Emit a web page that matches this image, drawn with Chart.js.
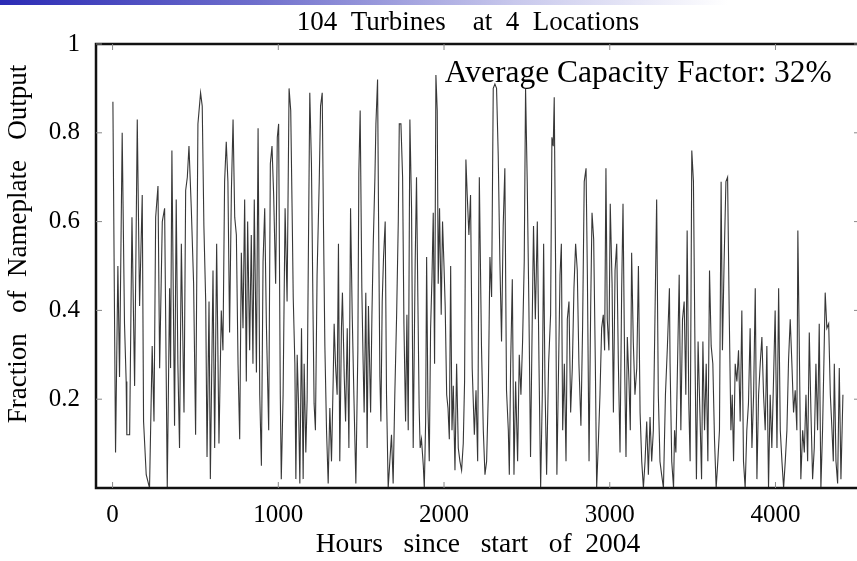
<html>
<head>
<script src="https://cdn.jsdelivr.net/npm/chart.js@4.4.0/dist/chart.umd.min.js"></script>
<style>
  html, body { margin: 0; padding: 0; overflow: hidden; background: #fff; }
  #wrap { position: absolute; left: 0; top: 0; width: 870px; height: 561px; }
  #topbar {
    position: absolute; left: 0; top: 0; width: 857px; height: 5px;
    background: linear-gradient(to right, #2b2bb5 0%, #6f6fcc 30%, #c8c8ec 60%, #ffffff 85%);
  }
</style>
</head>
<body>
<div id="wrap"><canvas id="capacityChart" width="870" height="561"></canvas></div>
<div id="topbar"></div>

<script>
  // hourly output, one block per quarter of the x range
  var hoursA = [2,18,32,42,58,72,82,86,103,117,
    133,149,163,179,187,203,223,239,250,260,
    274,284,300,314,324,330,344,350,358,374,
    384,394,404,415,431,441,451,461,475,489,
    501,515,531,541,551,562,570,582,590,606,
    616,628,642,656,666,676,686,696,706,717,
    727,737,747,757,767,777,787,797,807,815,
    827,837,847,855,868,878,888,898,908,918,
    928,942,952,962,972,984,994,1002,1012,1018,
    1029,1041,1053,1065];
  var fractionA = [0.87,0.08,0.50,0.25,0.80,0.37,0.24,0.12,0.12,0.61,
    0.23,0.83,0.41,0.66,0.15,0.03,0.00,0.32,0.15,0.61,
    0.68,0.27,0.60,0.63,0.24,0.00,0.45,0.27,0.76,0.14,
    0.65,0.28,0.09,0.55,0.17,0.67,0.70,0.77,0.63,0.46,
    0.12,0.82,0.89,0.86,0.59,0.42,0.07,0.42,0.02,0.49,
    0.09,0.55,0.10,0.40,0.31,0.69,0.78,0.69,0.35,0.67,
    0.83,0.61,0.57,0.28,0.11,0.53,0.36,0.65,0.24,0.60,
    0.31,0.57,0.28,0.65,0.26,0.81,0.21,0.05,0.51,0.63,
    0.37,0.13,0.73,0.77,0.66,0.46,0.79,0.82,0.21,0.02,
    0.21,0.63,0.42,0.90];

  var hoursB = [1075,1085,1090,1100,1106,1114,1122,1130,1140,1150,
    1156,1166,1174,1182,1190,1200,1210,1216,1224,1234,
    1247,1255,1265,1273,1281,1291,1301,1311,1321,1331,
    1337,1345,1355,1363,1371,1381,1387,1398,1406,1416,
    1426,1436,1446,1456,1468,1480,1486,1494,1504,1512,
    1518,1528,1536,1544,1557,1565,1573,1583,1589,1599,
    1605,1613,1619,1627,1635,1645,1653,1663,1673,1683,
    1693,1703,1714,1724,1730,1740,1750,1758,1768,1776,
    1784,1794,1804,1814,1826,1834,1842,1850,1856,1864,
    1875,1881,1889,1895,1903,1911,1919,1927,1935,1943,
    1951,1959,1965,1973,1983,1991,1999,2007,2016,2024,
    2032,2040,2048,2056,2066,2076,2086,2096,2106,2116,
    2124,2132,2140,2150,2160,2170,2183,2193,2203,2213];
  var fractionB = [0.85,0.58,0.43,0.28,0.02,0.30,0.19,0.01,0.36,0.02,
    0.28,0.08,0.20,0.55,0.89,0.73,0.38,0.19,0.13,0.48,
    0.69,0.86,0.89,0.58,0.32,0.13,0.01,0.18,0.06,0.24,
    0.37,0.28,0.21,0.55,0.06,0.36,0.44,0.25,0.15,0.36,
    0.09,0.63,0.39,0.21,0.01,0.31,0.71,0.85,0.45,0.28,
    0.17,0.44,0.09,0.41,0.17,0.39,0.55,0.70,0.82,0.92,
    0.61,0.25,0.15,0.42,0.52,0.60,0.21,0.00,0.06,0.12,
    0.01,0.21,0.39,0.60,0.82,0.82,0.70,0.37,0.15,0.39,
    0.13,0.83,0.63,0.09,0.51,0.70,0.43,0.18,0.09,0.11,
    0.05,0.00,0.15,0.52,0.18,0.06,0.36,0.47,0.62,0.28,
    0.93,0.85,0.46,0.63,0.39,0.60,0.51,0.41,0.21,0.18,
    0.11,0.50,0.13,0.23,0.04,0.28,0.09,0.06,0.04,0.10,
    0.24,0.74,0.66,0.57,0.66,0.27,0.12,0.22,0.06,0.70];

  var hoursC = [2226,2237,2247,2257,2267,2277,2287,2297,2307,2317,
    2327,2337,2347,2357,2367,2377,2388,2394,2402,2412,
    2422,2432,2444,2454,2464,2474,2484,2492,2502,2512,
    2522,2532,2540,2551,2563,2573,2583,2593,2601,2609,
    2619,2631,2643,2651,2659,2665,2673,2681,2689,2700,
    2708,2716,2726,2736,2744,2754,2764,2774,2784,2794,
    2804,2814,2826,2836,2846,2857,2865,2875,2885,2893,
    2903,2913,2921,2931,2941,2951,2961,2969,2977,2985,
    2995,3003,3014,3022,3032,3042,3052,3062,3072,3080,
    3090,3098,3106,3116,3124,3132,3142,3152,3163,3173,
    3183,3193,3203,3213,3223,3233,3243,3253,3263,3273,
    3283,3293,3303,3313,3324,3336,3348,3360];
  var fractionC = [0.32,0.13,0.03,0.06,0.21,0.52,0.43,0.90,0.91,0.90,
    0.75,0.51,0.33,0.59,0.72,0.22,0.13,0.03,0.28,0.47,
    0.03,0.24,0.06,0.30,0.21,0.33,0.51,0.90,0.69,0.41,
    0.07,0.37,0.59,0.38,0.60,0.28,0.00,0.21,0.55,0.24,
    0.03,0.28,0.39,0.79,0.77,0.88,0.51,0.03,0.22,0.48,
    0.55,0.13,0.28,0.06,0.38,0.42,0.17,0.27,0.45,0.55,
    0.49,0.28,0.14,0.36,0.69,0.72,0.48,0.06,0.41,0.62,
    0.56,0.28,0.00,0.10,0.21,0.36,0.39,0.31,0.72,0.38,
    0.31,0.64,0.46,0.17,0.49,0.55,0.28,0.08,0.45,0.64,
    0.27,0.07,0.34,0.24,0.13,0.53,0.33,0.21,0.27,0.50,
    0.17,0.06,0.00,0.06,0.15,0.03,0.16,0.06,0.13,0.39,
    0.65,0.21,0.06,0.03,0.00,0.21,0.32,0.45];

  var hoursD = [3364,3374,3385,3391,3399,3409,3419,3429,3439,3449,
    3459,3467,3477,3485,3495,3505,3515,3523,3533,3544,
    3554,3562,3572,3582,3592,3602,3612,3622,3632,3642,
    3652,3662,3672,3680,3690,3701,3711,3721,3731,3739,
    3747,3757,3767,3777,3787,3797,3807,3817,3827,3837,
    3847,3858,3868,3878,3888,3898,3908,3918,3928,3938,
    3948,3958,3968,3978,3988,3998,4009,4019,4029,4039,
    4049,4059,4069,4079,4089,4099,4109,4119,4129,4135,
    4145,4153,4164,4174,4184,4194,4204,4214,4224,4234,
    4244,4254,4264,4274,4284,4292,4300,4310,4321,4331,
    4341,4349,4355,4365,4375,4385,4395,4407];
  var fractionD = [0.28,0.06,0.00,0.13,0.08,0.28,0.48,0.13,0.38,0.42,
    0.21,0.58,0.19,0.06,0.76,0.69,0.28,0.02,0.33,0.17,
    0.02,0.33,0.13,0.28,0.06,0.49,0.32,0.28,0.11,0.00,
    0.06,0.13,0.69,0.31,0.51,0.69,0.70,0.39,0.13,0.21,
    0.06,0.28,0.24,0.31,0.15,0.40,0.06,0.00,0.13,0.19,
    0.36,0.09,0.21,0.45,0.02,0.21,0.28,0.34,0.21,0.13,
    0.32,0.00,0.21,0.09,0.24,0.40,0.09,0.45,0.13,0.06,
    0.00,0.06,0.13,0.29,0.38,0.28,0.17,0.22,0.13,0.58,
    0.28,0.02,0.13,0.08,0.21,0.06,0.35,0.17,0.02,0.09,
    0.28,0.13,0.37,0.00,0.13,0.28,0.44,0.36,0.37,0.21,
    0.13,0.06,0.28,0.06,0.01,0.27,0.02,0.21];

  var xTickValues = [0, 1000, 2000, 3000, 4000];
  var yTickValues = [0.2, 0.4, 0.6, 0.8, 1];

  var chartTitle = "104  Turbines    at  4  Locations";
  var xTitle = "Hours   since   start   of  2004";
  var yTitle = "Fraction   of  Nameplate   Output";
  var noteText = "Average Capacity Factor: 32%";

  var serif = "'Liberation Serif', 'Times New Roman', serif";

  var hours = hoursA.concat(hoursB, hoursC, hoursD);
  var fraction = fractionA.concat(fractionB, fractionC, fractionD);
  var points = hours.map((h, i) => ({ x: h, y: fraction[i] }));

  // box round the plot, inward tick marks, title, rotated y title and the note
  var framePlugin = {
    id: 'frame',
    afterDraw(chart) {
      var ctx = chart.ctx, a = chart.chartArea;
      var xs = chart.scales.x, ys = chart.scales.y;
      ctx.save();
      ctx.strokeStyle = '#111';
      ctx.lineWidth = 2.5;
      ctx.strokeRect(a.left, a.top, a.right - a.left, a.bottom - a.top);

      ctx.strokeStyle = '#888';
      ctx.lineWidth = 1;
      ctx.beginPath();
      xTickValues.forEach(v => {
        var px = xs.getPixelForValue(v);
        ctx.moveTo(px, a.bottom); ctx.lineTo(px, a.bottom - 6);
        ctx.moveTo(px, a.top); ctx.lineTo(px, a.top + 6);
      });
      yTickValues.forEach(v => {
        var py = ys.getPixelForValue(v);
        ctx.moveTo(a.left, py); ctx.lineTo(a.left + 6, py);
        ctx.moveTo(a.right, py); ctx.lineTo(a.right - 6, py);
      });
      ctx.stroke();

      ctx.fillStyle = '#000';
      ctx.textAlign = 'center';
      ctx.textBaseline = 'middle';
      ctx.font = '27px ' + serif;
      ctx.fillText(chartTitle, 468, 23);

      ctx.font = '31.5px ' + serif;
      ctx.textAlign = 'left';
      ctx.textBaseline = 'alphabetic';
      ctx.fillText(noteText, xs.getPixelForValue(2005), ys.getPixelForValue(0.915));

      ctx.translate(19, (a.top + a.bottom) / 2 - 22);
      ctx.rotate(-Math.PI / 2);
      ctx.font = '27px ' + serif;
      ctx.textAlign = 'center';
      ctx.textBaseline = 'middle';
      ctx.fillText(yTitle, 0, 0);
      ctx.restore();
    }
  };

  var capacityChart = new Chart(document.getElementById('capacityChart'), {
    type: 'line',
    data: {
      datasets: [{
        data: points,
        borderColor: 'rgba(20,20,20,0.85)',
        borderWidth: 1.1,
        pointRadius: 0,
        tension: 0,
        fill: false
      }]
    },
    options: {
      responsive: false,
      animation: false,
      layout: { padding: { left: 0, right: 10, top: 44, bottom: 0 } },
      plugins: {
        legend: { display: false },
        tooltip: { enabled: false },
        title: { display: false }
      },
      scales: {
        x: {
          type: 'linear',
          min: -100,
          max: 4510,
          grid: { display: false, drawTicks: false },
          border: { display: false },
          afterBuildTicks: s => { s.ticks = xTickValues.map(v => ({ value: v })); },
          afterFit: s => { s.height = 73; },
          ticks: {
            color: '#000',
            font: { family: serif, size: 25 },
            padding: 12,
            maxRotation: 0,
            autoSkip: false,
            callback: v => String(v)
          },
          title: {
            display: true,
            text: xTitle,
            color: '#000',
            font: { family: serif, size: 27.5 },
            padding: { top: 0, bottom: 0 }
          }
        },
        y: {
          min: 0,
          max: 1,
          grid: { display: false, drawTicks: false },
          border: { display: false },
          afterBuildTicks: s => { s.ticks = yTickValues.map(v => ({ value: v })); },
          afterFit: s => { s.width = 96; },
          ticks: {
            color: '#000',
            font: { family: serif, size: 25 },
            padding: 16,
            callback: v => String(v)
          }
        }
      }
    },
    plugins: [framePlugin]
  });
</script>
</body>
</html>
